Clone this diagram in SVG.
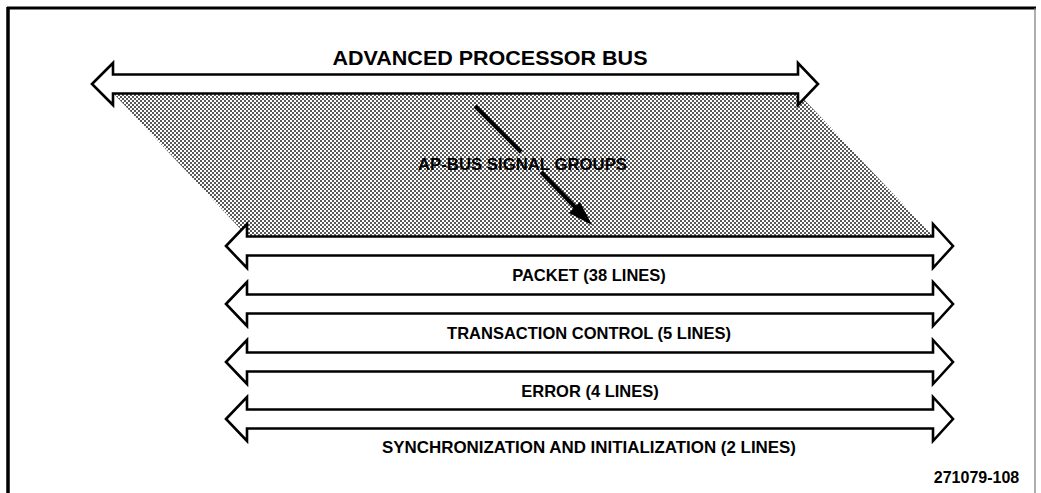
<svg xmlns="http://www.w3.org/2000/svg" width="1041" height="493" viewBox="0 0 1041 493">
  <defs>
    <pattern id="dots" width="4" height="4" patternUnits="userSpaceOnUse">
      <rect width="4" height="4" fill="#ffffff"/>
      <circle cx="1" cy="1" r="0.95" fill="#111"/>
      <circle cx="3" cy="3" r="0.95" fill="#111"/>
    </pattern>
  </defs>
  <style>
    .bus { fill: #ffffff; stroke: #000; stroke-width: 2.6; stroke-linejoin: miter; }
    .lbl { font-family: "Liberation Sans", Arial, sans-serif; font-weight: bold; fill: #000; text-anchor: middle; }
  </style>
  <rect width="1041" height="493" fill="#ffffff"/>
  <g id="frame">
    <line x1="7" y1="8" x2="1036" y2="8" stroke="#000" stroke-width="3"/>
    <line x1="8" y1="7" x2="8" y2="493" stroke="#000" stroke-width="3.5"/>
    <line x1="1035" y1="8" x2="1035" y2="493" stroke="#777" stroke-width="1.2"/>
  </g>
  <g id="signal-groups-area">
    <polygon points="113,93 798,93 933,236 247,236" fill="url(#dots)"/>
    <text class="lbl" x="522.5" y="170" font-size="17" textLength="209" lengthAdjust="spacingAndGlyphs" fill="#111">AP-BUS SIGNAL GROUPS</text>
  </g>
  <g id="connectors">
    <line x1="475" y1="106" x2="521" y2="152" stroke="#000" stroke-width="4"/>
    <line x1="541" y1="172" x2="577" y2="209" stroke="#000" stroke-width="4"/>
    <polygon points="592,225 569,213 580,202" fill="#000"/>
  </g>
  <g id="ap-bus">
    <path class="bus" d="M92,84 L113,63 L113,74.5 L798,74.5 L798,63 L818,84 L798,105 L798,93.5 L113,93.5 L113,105 Z"/>
    <text class="lbl" x="490" y="65" font-size="21" textLength="315" lengthAdjust="spacingAndGlyphs">ADVANCED PROCESSOR BUS</text>
  </g>
  <g id="packet">
    <path class="bus" d="M226,246 L247,224 L247,236.5 L933,236.5 L933,224 L953,246 L933,268 L933,255.5 L247,255.5 L247,268 Z"/>
    <text class="lbl" x="589" y="281" font-size="16.5">PACKET (38 LINES)</text>
  </g>
  <g id="transaction-control">
    <path class="bus" d="M226,304 L247,282 L247,294.5 L933,294.5 L933,282 L953,304 L933,326 L933,313.5 L247,313.5 L247,326 Z"/>
    <text class="lbl" x="589" y="339" font-size="16.5">TRANSACTION CONTROL (5 LINES)</text>
  </g>
  <g id="error">
    <path class="bus" d="M226,362 L247,340 L247,352.5 L933,352.5 L933,340 L953,362 L933,384 L933,371.5 L247,371.5 L247,384 Z"/>
    <text class="lbl" x="590" y="397" font-size="16.5">ERROR (4 LINES)</text>
  </g>
  <g id="sync-init">
    <path class="bus" d="M226,419 L247,397 L247,409.5 L933,409.5 L933,397 L953,419 L933,441 L933,428.5 L247,428.5 L247,441 Z"/>
    <text class="lbl" x="589" y="453" font-size="16.5" textLength="414" lengthAdjust="spacingAndGlyphs">SYNCHRONIZATION AND INITIALIZATION (2 LINES)</text>
  </g>
  <g id="figure-number">
    <text class="lbl" x="976.5" y="483" font-size="16">271079-108</text>
  </g>
</svg>
